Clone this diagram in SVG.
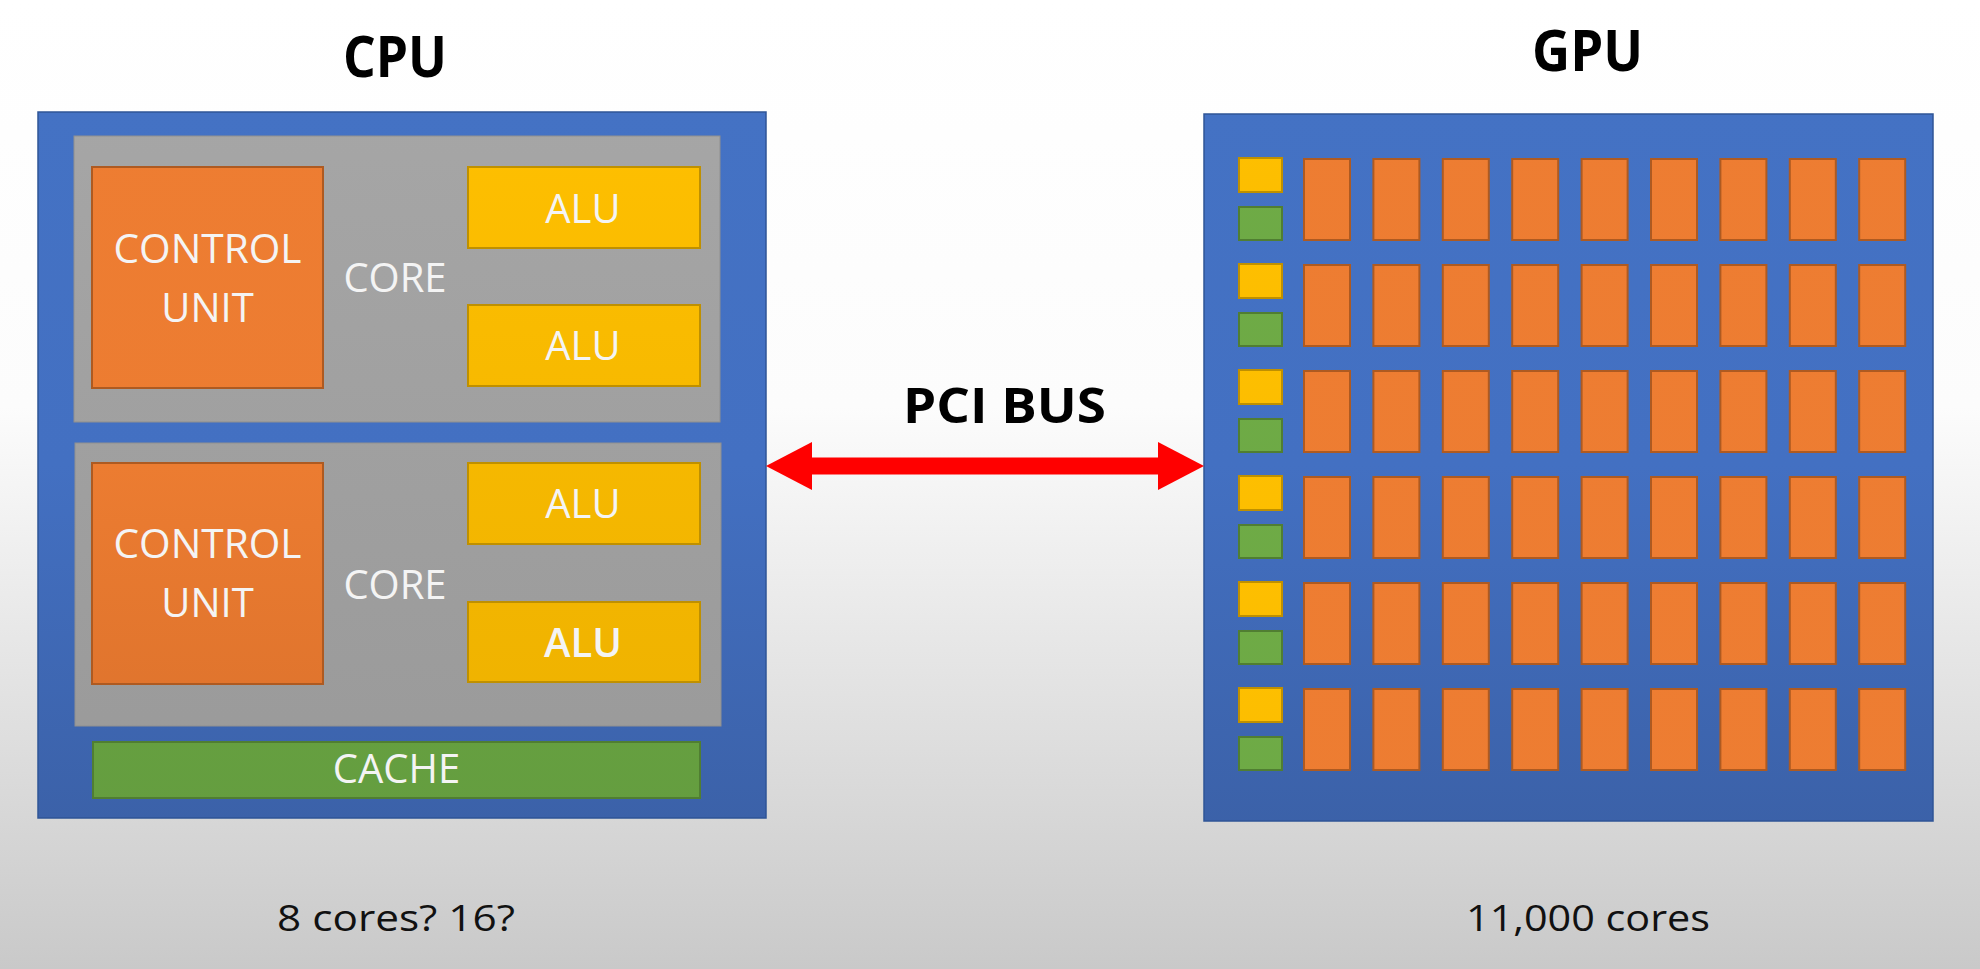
<svg xmlns="http://www.w3.org/2000/svg" width="1980" height="969" viewBox="0 0 1980 969">
  <defs>
    <linearGradient id="bg" x1="0" y1="0" x2="0" y2="969" gradientUnits="userSpaceOnUse">
      <stop offset="0" stop-color="#ffffff"/>
      <stop offset="0.42" stop-color="#fcfcfc"/>
      <stop offset="1" stop-color="#c9c9c9"/>
    </linearGradient>
    <linearGradient id="blue" x1="0" y1="100" x2="0" y2="830" gradientUnits="userSpaceOnUse">
      <stop offset="0" stop-color="#4472c4"/>
      <stop offset="0.5" stop-color="#4370c2"/>
      <stop offset="1" stop-color="#3b61a8"/>
    </linearGradient>
    <linearGradient id="gray" x1="0" y1="100" x2="0" y2="830" gradientUnits="userSpaceOnUse">
      <stop offset="0" stop-color="#a6a6a6"/>
      <stop offset="1" stop-color="#999999"/>
    </linearGradient>
    <linearGradient id="orange" x1="0" y1="100" x2="0" y2="830" gradientUnits="userSpaceOnUse">
      <stop offset="0" stop-color="#ee7d32"/>
      <stop offset="0.5" stop-color="#ec7c31"/>
      <stop offset="1" stop-color="#d9702b"/>
    </linearGradient>
    <linearGradient id="yellow" x1="0" y1="100" x2="0" y2="830" gradientUnits="userSpaceOnUse">
      <stop offset="0" stop-color="#ffc000"/>
      <stop offset="1" stop-color="#ecb000"/>
    </linearGradient>
    <linearGradient id="green" x1="0" y1="100" x2="0" y2="830" gradientUnits="userSpaceOnUse">
      <stop offset="0" stop-color="#70ad47"/>
      <stop offset="1" stop-color="#649d3f"/>
    </linearGradient>
    <marker id="head" viewBox="0 0 46 48" markerUnits="userSpaceOnUse" markerWidth="46" markerHeight="48" refX="12" refY="24" orient="auto-start-reverse">
      <path d="M0,0 L46,24 L0,48 Z" fill="#ff0000"/>
    </marker>
  </defs>
  <style>
    .chip { fill: url(#blue); stroke: #2f5597; stroke-width: 1.5; }
    .core { fill: url(#gray); stroke: #8f8f8f; stroke-width: 1; }
    .cu { fill: url(#orange); stroke: #ae5a21; stroke-width: 2; }
    .alu { fill: url(#yellow); stroke: #bf9000; stroke-width: 2; }
    .cache { fill: url(#green); stroke: #507e32; stroke-width: 2; }
    .cell { fill: url(#orange); stroke: #ae5a21; stroke-width: 2; }
    .ctl { fill: url(#yellow); stroke: #bf9000; stroke-width: 2; }
    .mem { fill: url(#green); stroke: #507e32; stroke-width: 2; }
    .lbl { font-family: "Open Sans", "Noto Sans", sans-serif; font-size: 40px; fill: #f4f4f4; text-anchor: middle; }
    .title { font-family: "Open Sans", "Noto Sans", sans-serif; font-weight: bold; font-size: 58px; fill: #000000; text-anchor: middle; }
    .note { font-family: "Open Sans", "Noto Sans", sans-serif; font-size: 37px; fill: #111111; text-anchor: middle; }
  </style>

  <rect x="0" y="0" width="1980" height="969" fill="url(#bg)"/>

  <g id="cpu">
    <text class="title" x="395" y="77" textLength="104" lengthAdjust="spacingAndGlyphs">CPU</text>
    <rect class="chip" x="38" y="112" width="728" height="706"/>
    <g id="cpu-core-1">
      <rect class="core" x="74" y="136" width="646" height="286"/>
      <g id="control-unit-1">
        <rect class="cu" x="92" y="167" width="231" height="221"/>
        <text class="lbl" x="207.5" y="263" textLength="188" lengthAdjust="spacingAndGlyphs">CONTROL</text>
        <text class="lbl" x="207.5" y="322">UNIT</text>
      </g>
      <text class="lbl" x="395" y="292">CORE</text>
      <g id="alu-1">
        <rect class="alu" x="468" y="167" width="232" height="81"/>
        <text class="lbl" x="583" y="223">ALU</text>
      </g>
      <g id="alu-2">
        <rect class="alu" x="468" y="305" width="232" height="81"/>
        <text class="lbl" x="583" y="360">ALU</text>
      </g>
    </g>
    <g id="cpu-core-2">
      <rect class="core" x="75" y="443" width="646" height="283"/>
      <g id="control-unit-2">
        <rect class="cu" x="92" y="463" width="231" height="221"/>
        <text class="lbl" x="207.5" y="558" textLength="188" lengthAdjust="spacingAndGlyphs">CONTROL</text>
        <text class="lbl" x="207.5" y="617">UNIT</text>
      </g>
      <text class="lbl" x="395" y="599">CORE</text>
      <g id="alu-3">
        <rect class="alu" x="468" y="463" width="232" height="81"/>
        <text class="lbl" x="583" y="518">ALU</text>
      </g>
      <g id="alu-4">
        <rect class="alu" x="468" y="602" width="232" height="80"/>
        <text class="lbl" x="583" y="657" font-weight="600">ALU</text>
      </g>
    </g>
    <g id="cache">
      <rect class="cache" x="93" y="742" width="607" height="56"/>
      <text class="lbl" x="396.5" y="783">CACHE</text>
    </g>
    <text class="note" x="396" y="931" textLength="238" lengthAdjust="spacingAndGlyphs">8 cores? 16?</text>
  </g>

  <g id="gpu">
    <text class="title" x="1587.5" y="71" textLength="111" lengthAdjust="spacingAndGlyphs">GPU</text>
    <rect class="chip" x="1204" y="114" width="729" height="707"/>
    <g id="gpu-cells">
      <g id="gpu-row-1" transform="translate(0,0)">
        <rect class="ctl" x="1239" y="158" width="43" height="34"/>
        <rect class="mem" x="1239" y="207" width="43" height="33"/>
        <rect class="cell" x="1304" y="159" width="46" height="81"/>
        <rect class="cell" x="1373.4" y="159" width="46" height="81"/>
        <rect class="cell" x="1442.8" y="159" width="46" height="81"/>
        <rect class="cell" x="1512.2" y="159" width="46" height="81"/>
        <rect class="cell" x="1581.6" y="159" width="46" height="81"/>
        <rect class="cell" x="1651" y="159" width="46" height="81"/>
        <rect class="cell" x="1720.4" y="159" width="46" height="81"/>
        <rect class="cell" x="1789.8" y="159" width="46" height="81"/>
        <rect class="cell" x="1859.2" y="159" width="46" height="81"/>
      </g>
      <g id="gpu-row-2" transform="translate(0,106)">
        <rect class="ctl" x="1239" y="158" width="43" height="34"/>
        <rect class="mem" x="1239" y="207" width="43" height="33"/>
        <rect class="cell" x="1304" y="159" width="46" height="81"/>
        <rect class="cell" x="1373.4" y="159" width="46" height="81"/>
        <rect class="cell" x="1442.8" y="159" width="46" height="81"/>
        <rect class="cell" x="1512.2" y="159" width="46" height="81"/>
        <rect class="cell" x="1581.6" y="159" width="46" height="81"/>
        <rect class="cell" x="1651" y="159" width="46" height="81"/>
        <rect class="cell" x="1720.4" y="159" width="46" height="81"/>
        <rect class="cell" x="1789.8" y="159" width="46" height="81"/>
        <rect class="cell" x="1859.2" y="159" width="46" height="81"/>
      </g>
      <g id="gpu-row-3" transform="translate(0,212)">
        <rect class="ctl" x="1239" y="158" width="43" height="34"/>
        <rect class="mem" x="1239" y="207" width="43" height="33"/>
        <rect class="cell" x="1304" y="159" width="46" height="81"/>
        <rect class="cell" x="1373.4" y="159" width="46" height="81"/>
        <rect class="cell" x="1442.8" y="159" width="46" height="81"/>
        <rect class="cell" x="1512.2" y="159" width="46" height="81"/>
        <rect class="cell" x="1581.6" y="159" width="46" height="81"/>
        <rect class="cell" x="1651" y="159" width="46" height="81"/>
        <rect class="cell" x="1720.4" y="159" width="46" height="81"/>
        <rect class="cell" x="1789.8" y="159" width="46" height="81"/>
        <rect class="cell" x="1859.2" y="159" width="46" height="81"/>
      </g>
      <g id="gpu-row-4" transform="translate(0,318)">
        <rect class="ctl" x="1239" y="158" width="43" height="34"/>
        <rect class="mem" x="1239" y="207" width="43" height="33"/>
        <rect class="cell" x="1304" y="159" width="46" height="81"/>
        <rect class="cell" x="1373.4" y="159" width="46" height="81"/>
        <rect class="cell" x="1442.8" y="159" width="46" height="81"/>
        <rect class="cell" x="1512.2" y="159" width="46" height="81"/>
        <rect class="cell" x="1581.6" y="159" width="46" height="81"/>
        <rect class="cell" x="1651" y="159" width="46" height="81"/>
        <rect class="cell" x="1720.4" y="159" width="46" height="81"/>
        <rect class="cell" x="1789.8" y="159" width="46" height="81"/>
        <rect class="cell" x="1859.2" y="159" width="46" height="81"/>
      </g>
      <g id="gpu-row-5" transform="translate(0,424)">
        <rect class="ctl" x="1239" y="158" width="43" height="34"/>
        <rect class="mem" x="1239" y="207" width="43" height="33"/>
        <rect class="cell" x="1304" y="159" width="46" height="81"/>
        <rect class="cell" x="1373.4" y="159" width="46" height="81"/>
        <rect class="cell" x="1442.8" y="159" width="46" height="81"/>
        <rect class="cell" x="1512.2" y="159" width="46" height="81"/>
        <rect class="cell" x="1581.6" y="159" width="46" height="81"/>
        <rect class="cell" x="1651" y="159" width="46" height="81"/>
        <rect class="cell" x="1720.4" y="159" width="46" height="81"/>
        <rect class="cell" x="1789.8" y="159" width="46" height="81"/>
        <rect class="cell" x="1859.2" y="159" width="46" height="81"/>
      </g>
      <g id="gpu-row-6" transform="translate(0,530)">
        <rect class="ctl" x="1239" y="158" width="43" height="34"/>
        <rect class="mem" x="1239" y="207" width="43" height="33"/>
        <rect class="cell" x="1304" y="159" width="46" height="81"/>
        <rect class="cell" x="1373.4" y="159" width="46" height="81"/>
        <rect class="cell" x="1442.8" y="159" width="46" height="81"/>
        <rect class="cell" x="1512.2" y="159" width="46" height="81"/>
        <rect class="cell" x="1581.6" y="159" width="46" height="81"/>
        <rect class="cell" x="1651" y="159" width="46" height="81"/>
        <rect class="cell" x="1720.4" y="159" width="46" height="81"/>
        <rect class="cell" x="1789.8" y="159" width="46" height="81"/>
        <rect class="cell" x="1859.2" y="159" width="46" height="81"/>
      </g>
    </g>
    <text class="note" x="1588" y="931" textLength="244" lengthAdjust="spacingAndGlyphs">11,000 cores</text>
  </g>

  <g id="connectors">
    <line x1="800" y1="466" x2="1170" y2="466" stroke="#ff0000" stroke-width="17" marker-start="url(#head)" marker-end="url(#head)"/>
    <text x="1004.5" y="423" font-family="'Open Sans', 'Noto Sans', sans-serif" font-weight="bold" font-size="49" fill="#000000" text-anchor="middle" textLength="203" lengthAdjust="spacingAndGlyphs">PCI BUS</text>
  </g>
</svg>
